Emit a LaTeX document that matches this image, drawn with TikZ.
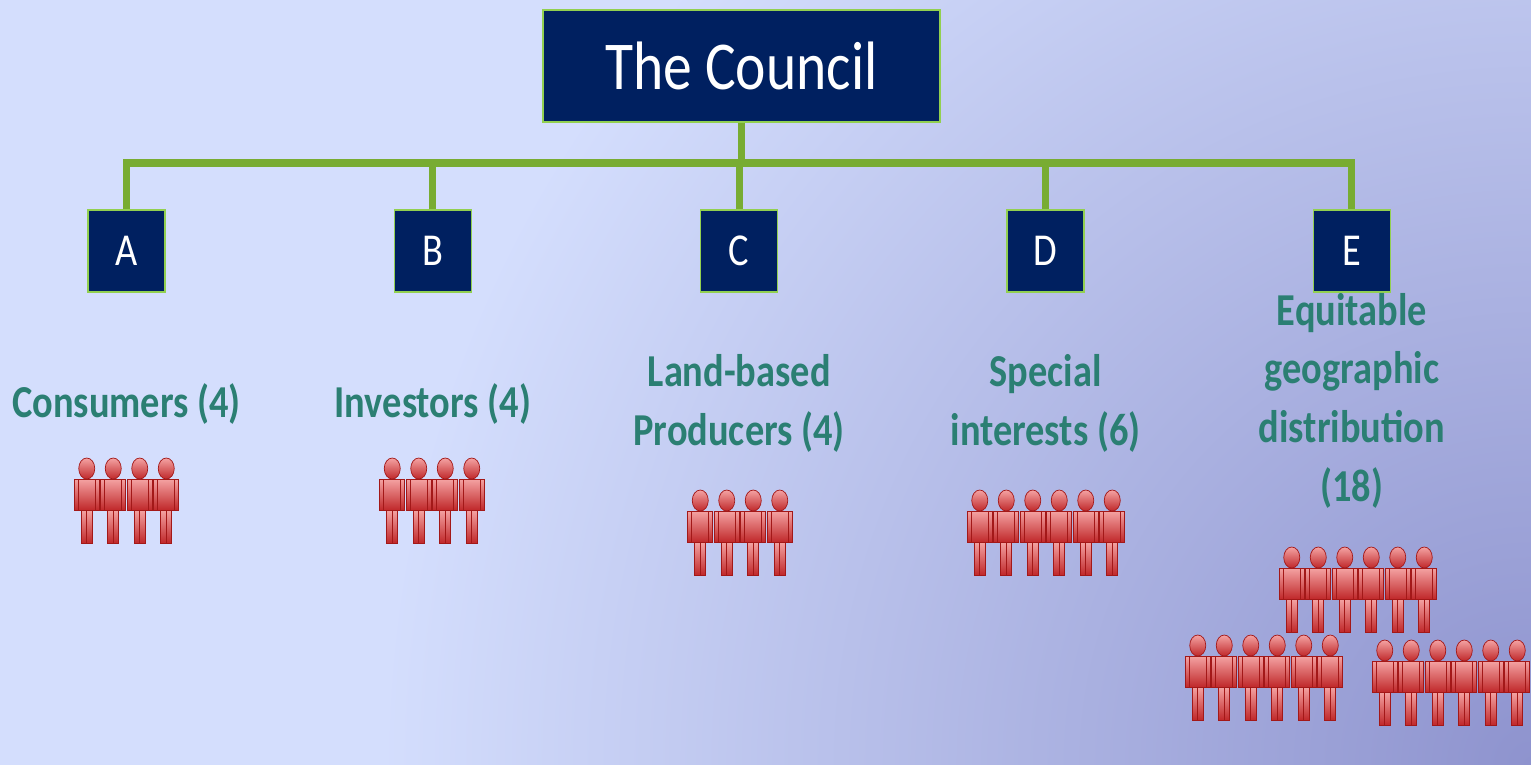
\documentclass[tikz,border=0pt]{standalone}
\usepackage{fontspec}
\setmainfont{Carlito}[FakeStretch=0.84]
\usetikzlibrary{positioning, calc}
\definecolor{bg-light}{HTML}{D4DEFD}
\definecolor{bg-dark}{HTML}{8E93CE}
\definecolor{box-blue}{HTML}{002060}
\definecolor{box-green}{HTML}{92D050}
\definecolor{link-green}{HTML}{78AC32}
\definecolor{label-teal}{HTML}{2B7F73}
\definecolor{person-light}{HTML}{F4A3A3}
\definecolor{person-dark}{HTML}{C0282A}
\definecolor{person-line}{HTML}{A31818}

\begin{document}
\begin{tikzpicture}[x=0.02cm, y=-0.02cm]
	\tikzset{box/.style={rectangle, draw=box-green, line width=0.8pt, fill=box-blue, text=white, minimum width=1.54cm, minimum height=1.64cm, inner sep=0pt, font=\fontsize{26}{30}\selectfont}}
	\tikzset{link/.style={draw=link-green, line width=4pt, line join=miter}}
	\tikzset{groupname/.style={text=label-teal, align=center, anchor=base, font=\bfseries\fontsize{26}{33.3}\selectfont}}
	\tikzset{limb/.style={draw=person-line, line width=0.4pt, top color=person-light, bottom color=person-dark}}
	\tikzset{person/.pic={
		\shade[limb] (-12.5,21) rectangle (-8.5,52);
		\shade[limb] (8.5,21) rectangle (12.5,52);
		\shade[limb] (-8.5,21) rectangle (8.5,52);
		\shade[limb] (-5.5,52) rectangle (0,85);
		\shade[limb] (0,52) rectangle (5.5,85);
		\shade[limb] (0,10.5) ellipse (8 and 10.5);
	}}
	% background
	\useasboundingbox (0,0) rectangle (1531,764);
	\fill[bg-light] (-5,-5) rectangle (1536,769);
	\begin{scope}
		\clip (-5,-5) rectangle (1536,769);
		\shade[inner color=bg-dark, outer color=bg-light] (1531,764) circle (1150);
	\end{scope}
	% boxes
	\node[box, minimum width=7.94cm, minimum height=2.24cm, font=\fontsize{39}{46}\selectfont] (council) at (741.5,66) {The Council};
	\node[box] (a) at (126.5,251) {A};
	\node[box, right=4.56cm of a] (b) {B};
	\node[box, right=4.56cm of b] (c) {C};
	\node[box, right=4.56cm of c] (d) {D};
	\node[box, right=4.56cm of d] (e) {E};
	% connectors
	\coordinate (bus) at (741.5,163);
	\draw[link] (council) -- (council |- bus);
	\draw[link] (a) |- (bus) -| (e);
	\foreach \g in {b, c, d}
		\draw[link] (\g) -- (\g |- bus);
	% group names (base = last line)
	\node[groupname] (consumers) at (a |- 0,417) {Consumers (4)};
	\node[groupname] (investors) at (b |- 0,417) {Investors (4)};
	\node[groupname] (producers) at (c |- 0,445) {Land-based\\Producers (4)};
	\node[groupname] (special) at (d |- 0,445) {Special\\interests (6)};
	\node[groupname] (regions) at (e |- 0,501) {Equitable\\geographic\\distribution\\(18)};
	% members
	\foreach \cx/\n/\ty in {126.5/4/458, 432/4/458, 740/4/490, 1046/6/490, 1358/6/547, 1264/6/635, 1451/6/640}
		\foreach \i in {1,...,\n}
			\pic at ({\cx+(\i-(\n+1)/2)*26.5}, \ty) {person};
\end{tikzpicture}
\end{document}
